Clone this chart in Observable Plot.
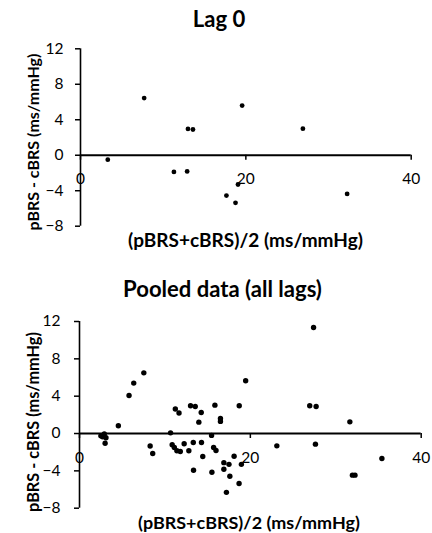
<!DOCTYPE html>
<html><head><meta charset="utf-8">
<script src="https://cdn.jsdelivr.net/npm/d3@7"></script>
<script src="https://cdn.jsdelivr.net/npm/@observablehq/plot@0.6"></script>
<style>
body{margin:0;background:#fff;}
#wrap{position:relative;width:432px;height:533px;overflow:hidden;font-family:Lato,"Open Sans",sans-serif;}
.t{position:absolute;font-weight:bold;color:#000;white-space:nowrap;line-height:1;}
.p{position:absolute;left:0;}
</style></head><body><div id="wrap"></div>
<script>
const xTicks = [0, 20, 40];
const yTicks = [-8, -4, 0, 4, 8, 12];
const titles = ["Lag 0", "Pooled data (all lags)"];
const xTitle = "(pBRS+cBRS)/2 (ms/mmHg)";
const yTitle = "pBRS - cBRS (ms/mmHg)";

const lag0Mean = [3.3, 7.7, 11.3, 12.9, 13.0, 13.6, 17.65, 18.75, 19.05, 19.55, 26.9, 32.25];
const lag0Diff = [-0.5, 6.45, -1.88, -1.82, 2.97, 2.9, -4.55, -5.36, -3.3, 5.6, 3.0, -4.36];

const pooledMean = [2.5, 2.9, 3.1, 3.0, 2.7, 4.55, 5.8, 6.35, 7.53, 8.27, 8.57, 10.66, 10.85, 11.1, 11.4, 11.8, 12.25, 12.8,
  11.22, 11.65, 13.0, 13.55, 13.32, 13.35, 13.97, 14.25, 14.28, 14.43, 15.46, 15.5, 15.85, 15.7, 15.98, 16.5, 16.5,
  16.9, 17.5, 16.9, 17.2, 17.6, 18.1, 18.7, 18.68, 18.95, 19.45, 23.1, 26.95, 27.4, 27.7, 27.62, 31.65, 31.95, 32.25, 35.4];
const pooledDiff = [-0.25, -0.05, -0.45, -1.05, -0.35, 0.83, 4.07, 5.4, 6.5, -1.34, -2.14, 0.07, -1.21, -1.5, -1.85, -1.93, -1.1, -1.85,
  2.62, 2.2, 2.97, 2.9, -0.96, -3.93, 1.22, 2.25, -0.96, -2.46, -0.2, -4.15, 3.04, -1.5, -1.82, 1.62, 1.3,
  -3.12, -3.3, -3.82, -6.3, -4.57, -2.43, 2.97, -5.36, -3.3, 5.65, -1.32, 2.97, 11.36, 2.9, -1.14, 1.25, -4.46, -4.46, -2.68];

const wrap = document.getElementById("wrap");

function panel(xs, ys, o) {
  const data = xs.map((x, i) => ({x, y: ys[i]}));
  const ppuY = (o.height - o.mt - o.mb) / 20;
  const svg = Plot.plot({
    width: 432, height: o.height,
    marginTop: o.mt, marginRight: o.mr, marginBottom: o.mb, marginLeft: o.ml,
    x: {domain: [0, 40], axis: null},
    y: {domain: [-8, 12], axis: null},
    style: {fontFamily: 'Lato,"Open Sans",sans-serif', fontSize: "15px", color: "#000", background: "transparent", overflow: "visible"},
    marks: [
      Plot.axisY(yTicks, {tickSize: 5, tickPadding: o.tp, strokeWidth: 1.5, label: null, fontSize: 15.5}),
      Plot.ruleX([0], {y1: -8, y2: 12, stroke: "#000", strokeWidth: 1.6}),
      Plot.ruleY([0], {x1: 0, x2: 40, stroke: "#000", strokeWidth: 1.8}),
      Plot.ruleX(xTicks, {x: d => d, y1: 0, y2: -5 / ppuY, stroke: "#000", strokeWidth: 1.5}),
      Plot.text(xTicks, {x: d => d, y: 0, dy: o.xdy, text: d => String(d), fontSize: 15.5, fill: "#000"}),
      Plot.dot(data, {x: "x", y: "y", r: o.r, fill: "#000", stroke: "none"})
    ]
  });
  svg.classList.add("p");
  svg.style.top = o.top + "px";
  wrap.appendChild(svg);
}

panel(lag0Mean, lag0Diff, {top: 0, height: 260, mt: 48.3, mr: 21.3, mb: 34.3, ml: 80, tp: 12, xdy: 24, r: 2.4});
panel(pooledMean, pooledDiff, {top: 260, height: 273, mt: 61, mr: 11.3, mb: 25.3, ml: 79, tp: 14, xdy: 25, r: 2.7});

function label(text, cx, cy, w, rot, base, fixed) {
  const d = document.createElement("div");
  d.className = "t";
  d.textContent = text;
  d.style.fontSize = base + "px";
  wrap.appendChild(d);
  let size = base;
  if (!fixed) {
    const mw = d.getBoundingClientRect().width;
    size = base * w / mw;
  }
  d.style.fontSize = size.toFixed(2) + "px";
  d.style.left = cx + "px";
  d.style.top = cy + "px";
  d.style.transform = "translate(-50%,-50%)" + (rot ? " rotate(-90deg)" : "");
  return size;
}

const tSize = label(titles[1], 222.5, 289, 199, false, 17);
label(titles[0], 219, 19, 0, false, tSize, true);
label(xTitle, 245.5, 240, 235, false, 17);
label(xTitle, 249, 523, 222, false, 17);
label(yTitle, 33, 141.5, 177, true, 15);
label(yTitle, 33, 422, 180, true, 15);
</script></body></html>
